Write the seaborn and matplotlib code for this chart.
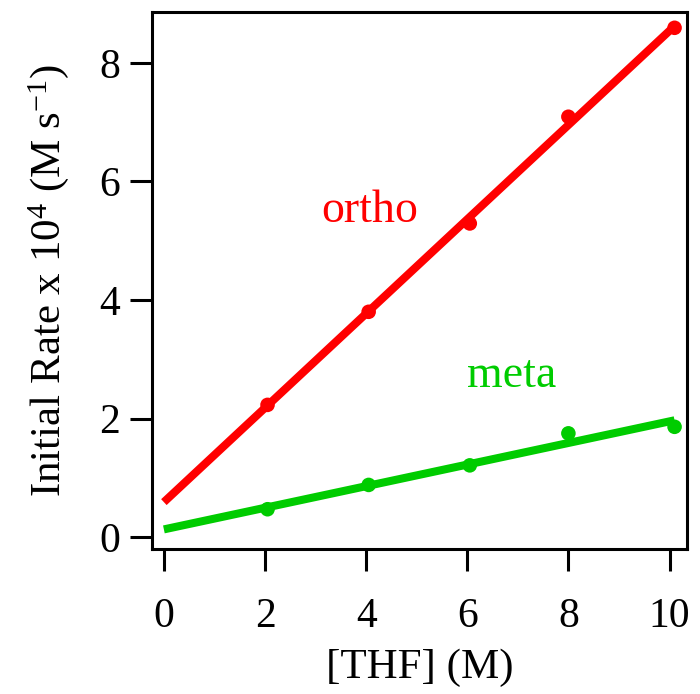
import matplotlib
matplotlib.use("Agg")
import matplotlib.pyplot as plt
import seaborn as sns
import pandas as pd

# Data
thf = [2.05, 4.05, 6.05, 8.0, 10.1]
ortho = [2.23, 3.80, 5.29, 7.09, 8.59]
meta = [0.47, 0.88, 1.21, 1.75, 1.86]

fit_x = [0.0, 10.1]
ortho_fit = [0.59, 8.62]
meta_fit = [0.13, 1.97]

xticks = [0, 2, 4, 6, 8, 10]
yticks = [0, 2, 4, 6, 8]

RED = "#FF0000"
GREEN = "#00CC00"

sns.set_theme(style="ticks")
plt.rcParams["font.family"] = ["Liberation Serif", "DejaVu Serif"]
plt.rcParams["mathtext.fontset"] = "custom"
plt.rcParams["mathtext.rm"] = "Liberation Serif"
plt.rcParams["mathtext.it"] = "Liberation Serif:italic"

fig = plt.figure(figsize=(7.0, 6.94), dpi=100)
ax = fig.add_axes([0.217, 0.209, 0.764, 0.774])

pts = pd.DataFrame({"x": thf, "ortho": ortho, "meta": meta})
fits = pd.DataFrame({"x": fit_x, "ortho": ortho_fit, "meta": meta_fit})

sns.lineplot(data=fits, x="x", y="ortho", color=RED, lw=5.8, ax=ax,
             solid_capstyle="butt")
sns.lineplot(data=fits, x="x", y="meta", color=GREEN, lw=5.8, ax=ax,
             solid_capstyle="butt")
sns.scatterplot(data=pts, x="x", y="ortho", color=RED, s=110, ax=ax,
                edgecolor="none", zorder=3)
sns.scatterplot(data=pts, x="x", y="meta", color=GREEN, s=110, ax=ax,
                edgecolor="none", zorder=3)

ax.text(4.07, 5.32, "ortho", color=RED, fontsize=33, ha="center", va="baseline")
ax.text(6.88, 2.53, "meta", color=GREEN, fontsize=33, ha="center", va="baseline")

ax.set_xlim(-0.237, 10.34)
ax.set_ylim(-0.20, 8.86)
ax.set_xticks(xticks)
ax.set_yticks(yticks)
ax.set_xticklabels([str(v) for v in xticks])
ax.set_yticklabels([str(v) for v in yticks])

for s in ax.spines.values():
    s.set_linewidth(2.2)
    s.set_color("black")
    s.set_visible(True)

ax.tick_params(axis="both", direction="out", length=16, width=2.2,
               labelsize=30, colors="black", labelcolor="black")
ax.tick_params(axis="x", pad=19)
ax.tick_params(axis="y", pad=7)

ax.set_xlabel("[THF] (M)", fontsize=31, labelpad=9, color="black")
ax.set_ylabel(r"Initial Rate x 10$^{4}$ (M s$^{-1}$)", fontsize=31,
              labelpad=20, color="black")

fig.savefig("out.png", dpi=100)
